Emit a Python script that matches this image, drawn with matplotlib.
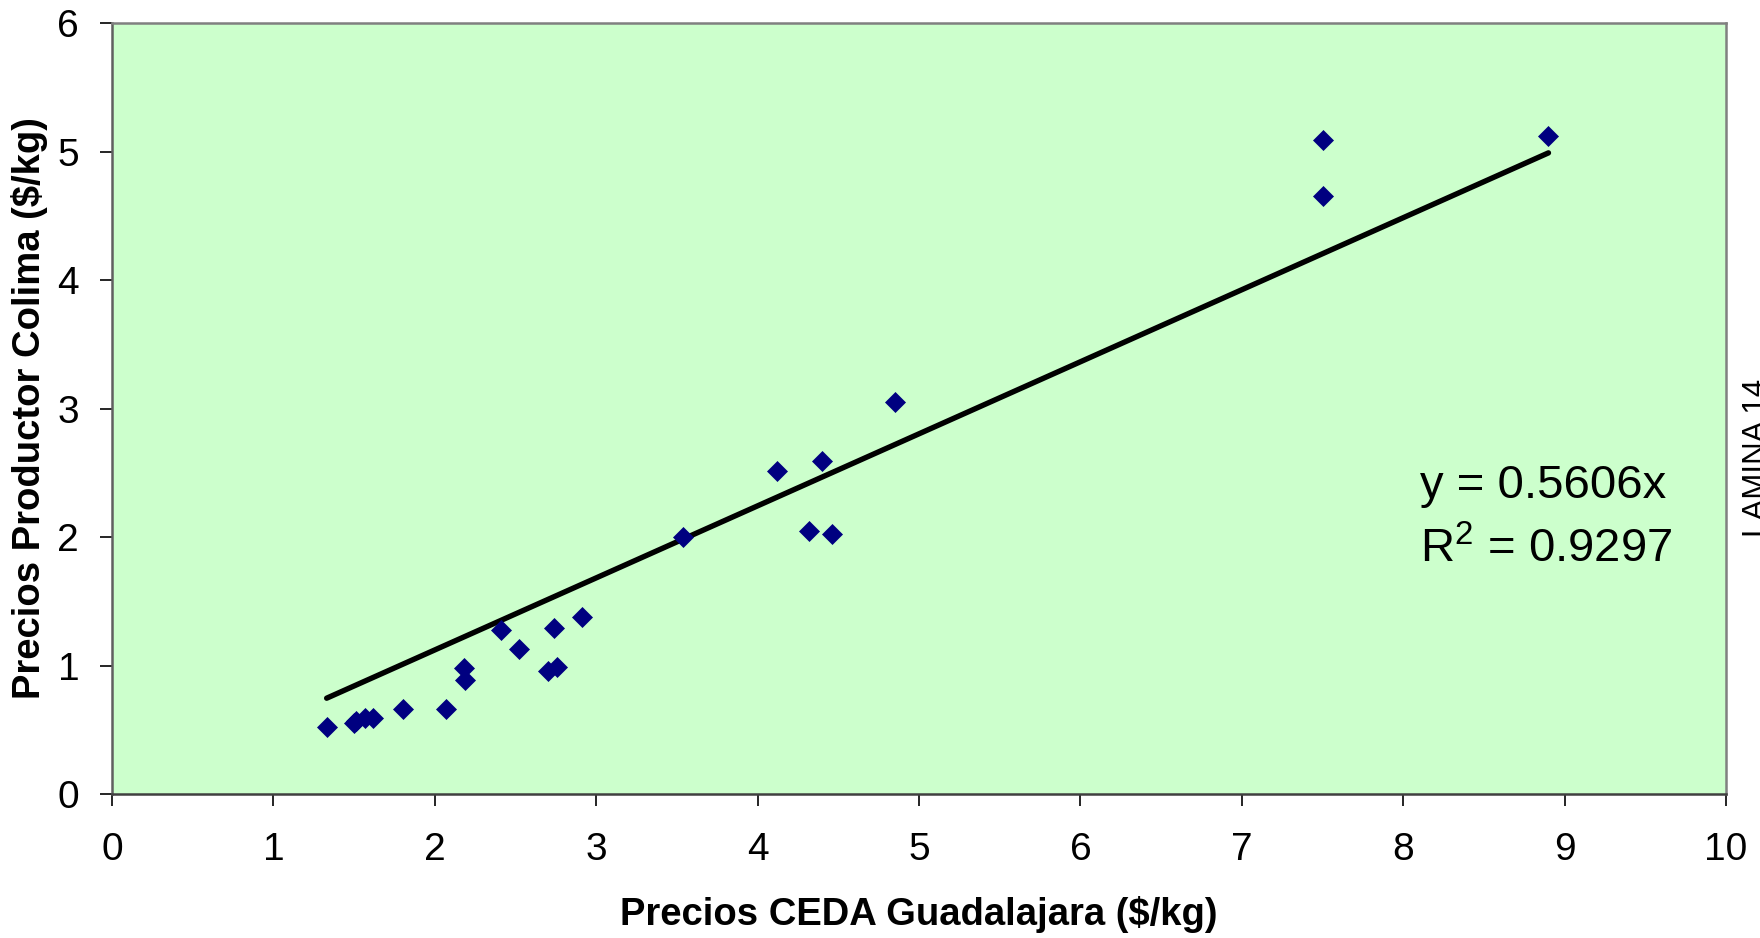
import matplotlib
matplotlib.use("Agg")
import matplotlib.pyplot as plt
import numpy as np

plt.rcParams['font.family'] = ['Liberation Sans', 'DejaVu Sans']
plt.rcParams['mathtext.fontset'] = 'custom'
plt.rcParams['mathtext.rm'] = 'Liberation Sans'

# Data
ceda_gdl = [1.33, 1.50, 1.51, 1.57, 1.62, 1.80, 2.07, 2.18, 2.19, 2.41, 2.52,
            2.70, 2.76, 2.74, 2.91, 3.54, 4.12, 4.32, 4.40, 4.46, 4.85,
            7.50, 7.50, 8.90]
productor_colima = [0.52, 0.55, 0.57, 0.59, 0.59, 0.66, 0.66, 0.98, 0.89, 1.28, 1.13,
                    0.96, 0.99, 1.29, 1.38, 2.00, 2.51, 2.05, 2.59, 2.02, 3.05,
                    5.09, 4.65, 5.12]
slope = 0.5606
r2 = 0.9297
x_ticks = [0, 1, 2, 3, 4, 5, 6, 7, 8, 9, 10]
y_ticks = [0, 1, 2, 3, 4, 5, 6]

W, H = 1760, 938
fig = plt.figure(figsize=(W / 100, H / 100), dpi=100)
fig.patch.set_facecolor('white')
L, R, T, B = 112, 1726, 23, 794
ax = fig.add_axes([L / W, (H - B) / H, (R - L) / W, (B - T) / H])
ax.set_facecolor('#CCFFCC')

ax.plot(ceda_gdl, productor_colima, linestyle='none', marker='D', ms=10.5,
        color='#000080', mec='#000080', mew=0.5, zorder=3)

xs = np.array([min(ceda_gdl), max(ceda_gdl)])
ax.plot(xs, slope * xs, color='black', lw=3.9, solid_capstyle='round', zorder=2)

ax.set_xlim(0, 10)
ax.set_ylim(0, 6)
ax.set_xticks(x_ticks)
ax.set_yticks(y_ticks)
ax.set_xticklabels([str(v) for v in x_ticks])
ax.set_yticklabels([str(v) for v in y_ticks])
ax.tick_params(axis='both', direction='out', length=8.6, width=1.2, color='black',
               labelsize=28)
ax.tick_params(axis='x', pad=19)
ax.tick_params(axis='y', pad=15)

for s in ['top', 'right']:
    ax.spines[s].set_color('#808080')
    ax.spines[s].set_linewidth(1.8)
ax.spines['left'].set_color('#606060')
ax.spines['left'].set_linewidth(1.8)
ax.spines['bottom'].set_color('#404040')
ax.spines['bottom'].set_linewidth(1.8)

ax.set_xlabel('Precios CEDA Guadalajara ($/kg)', fontsize=27.5, fontweight='bold',
              labelpad=20)
ax.set_ylabel('Precios Productor Colima ($/kg)', fontsize=27.5, fontweight='bold',
              labelpad=7)

ax.text(1420 / W, 1 - 486 / H, 'y = %.4fx' % slope, transform=fig.transFigure,
        fontsize=34, ha='left', va='center')
ax.text(1420 / W, 1 - 550 / H, 'R$^{2}$ = %.4f' % r2, transform=fig.transFigure,
        fontsize=34, ha='left', va='center')

fig.text(1742 / W, 1 - 458 / H, 'LAMINA 14', rotation=90, fontsize=22.5,
         ha='left', va='center')

fig.savefig('out.png', dpi=100)
